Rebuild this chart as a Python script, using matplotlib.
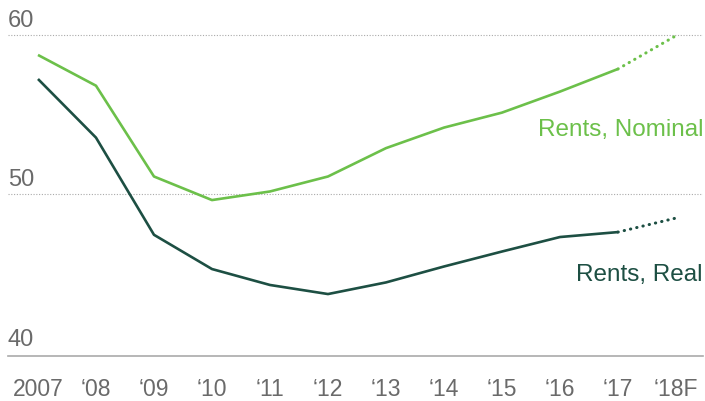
import matplotlib
matplotlib.use("Agg")
import matplotlib.pyplot as plt
import matplotlib.transforms as mtransforms

years = [2007, 2008, 2009, 2010, 2011, 2012, 2013, 2014, 2015, 2016, 2017, 2018]
xtick_labels = ["2007", "\u201808", "\u201809", "\u201810", "\u201811", "\u201812",
                "\u201813", "\u201814", "\u201815", "\u201816", "\u201817", "\u201818F"]
nominal = [58.75, 56.82, 51.12, 49.64, 50.18, 51.12, 52.9, 54.19, 55.13, 56.45, 57.87, 59.96]
real = [57.24, 53.56, 47.46, 45.31, 44.31, 43.74, 44.47, 45.47, 46.41, 47.32, 47.63, 48.51]
yticks = [40, 50, 60]
ytick_labels = ["40", "50", "60"]
forecast_start = 10  # index of last actual value

c_nom = "#6cc04a"
c_real = "#1d4f43"
c_text = "#6a6a6a"

plt.rcParams['font.family'] = ['Liberation Sans', 'DejaVu Sans']

fig = plt.figure(figsize=(7.05, 4.01), dpi=100)
ax = fig.add_axes([8/705, 1 - 355.7/401, (703-8)/705, 355.7/401])
ax.set_xlim(2006.483, 2018.466)
ax.set_ylim(39.87, 62.2)

for vals, c in ((nominal, c_nom), (real, c_real)):
    ax.plot(years[:forecast_start+1], vals[:forecast_start+1], color=c, lw=1.9,
            solid_joinstyle='round', solid_capstyle='butt')
    ax.plot(years[forecast_start:], vals[forecast_start:], color=c, lw=2.2,
            linestyle=(0, (0.1, 2.0)), dash_capstyle='round')

for v in [50, 60]:
    ax.axhline(v, color="#aaaaaa", lw=0.8, linestyle=(0, (1, 1.5)), zorder=0)

for s in ['top', 'right', 'left']:
    ax.spines[s].set_visible(False)
ax.spines['bottom'].set_color("#aaaaaa")
ax.spines['bottom'].set_linewidth(1.2)

ax.set_yticks([])
ax.set_xticks(years)
ax.set_xticklabels(xtick_labels, fontsize=16.5, color=c_text)
ax.tick_params(axis='x', length=0, pad=16)

trans = mtransforms.blended_transform_factory(ax.transAxes, ax.transData)
for v, lab in zip(yticks, ytick_labels):
    ax.text(0.0, v + 0.5, lab, transform=trans, ha='left', va='baseline',
            fontsize=17, color=c_text)

ax.text(1.0, 54.04, "Rents, Nominal", transform=trans, ha='right', va='center',
        fontsize=17.5, color=c_nom)
ax.text(1.0, 44.93, "Rents, Real", transform=trans, ha='right', va='center',
        fontsize=17.5, color=c_real)

fig.savefig("out.png", dpi=100)
